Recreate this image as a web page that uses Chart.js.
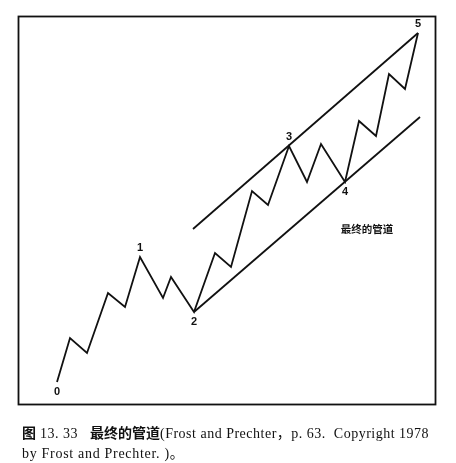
<!DOCTYPE html>
<html>
<head>
<meta charset="utf-8">
<script src="https://cdn.jsdelivr.net/npm/chart.js@4"></script>
<style>
  html,body{margin:0;padding:0;background:#fff;}
  #wrap{position:relative;width:456px;height:463px;overflow:hidden;}
  #c{position:absolute;left:0;top:0;}
  #cap{position:absolute;left:22px;top:422px;font-family:"Liberation Serif","Noto Sans CJK SC",serif;font-size:14px;line-height:20px;color:#111;white-space:nowrap;}
  #cap1{letter-spacing:0.5px;}
  #cap2{letter-spacing:0.7px;}
  .cjk{font-family:"Noto Sans CJK SC";font-weight:700;letter-spacing:0;}
  .fig{font-family:"Noto Sans CJK SC";font-weight:700;letter-spacing:4px;}
</style>
</head>
<body>
<div id="wrap">
<canvas id="c" width="456" height="463"></canvas>
<div id="cap">
<div id="cap1"><span class="fig">图</span>13. 33&nbsp;&nbsp;&nbsp;<span class="cjk">最终的管道</span>(Frost and Prechter，p. 63.&nbsp; Copyright 1978</div>
<div id="cap2">by Frost and Prechter. )。</div>
</div>
</div>
<script>
// Elliott wave path (time units, price units)
const waveX = [39, 52, 69, 90, 107, 122, 145, 153, 176, 197, 213, 234, 250, 271, 289, 303, 327, 341, 358, 371, 387, 400];
const waveY = [23, 67, 52, 112, 98, 148, 107, 128, 93, 152, 138, 214, 200, 259, 223, 261, 223, 284, 269, 331, 316, 372];
// channel lines
const upperX = [175, 400];
const upperY = [176, 372];
const lowerX = [176, 402];
const lowerY = [93, 288];
// wave labels: text and index into the wave path
const waveLabels = ['0', '1', '2', '3', '4', '5'];
const waveLabelIdx = [0, 5, 8, 13, 16, 21];
const waveLabelAbove = [false, true, false, true, false, true];
// annotation
const noteText = '最终的管道';
const noteX = 349;
const noteY = 176;

const toPts = (xs, ys) => xs.map((x, i) => ({x, y: ys[i]}));

const framePlugin = {
  id: 'frame',
  afterDatasetsDraw(chart) {
    const {ctx, chartArea: a, scales} = chart;
    ctx.save();
    ctx.strokeStyle = '#111';
    ctx.lineWidth = 1.8;
    ctx.strokeRect(a.left + 0.5, a.top + 0.5, a.right - a.left - 1, a.bottom - a.top - 1);
    ctx.fillStyle = '#111';
    ctx.textAlign = 'center';
    ctx.textBaseline = 'middle';
    ctx.font = 'bold 11px "Liberation Sans", sans-serif';
    waveLabels.forEach((t, i) => {
      const k = waveLabelIdx[i];
      const px = scales.x.getPixelForValue(waveX[k]);
      const py = scales.y.getPixelForValue(waveY[k]);
      ctx.fillText(t, px, py + (waveLabelAbove[i] ? -9 : 10));
    });
    ctx.font = 'bold 10.5px "Noto Sans CJK SC", sans-serif';
    ctx.fillText(noteText, scales.x.getPixelForValue(noteX), scales.y.getPixelForValue(noteY));
    ctx.restore();
  }
};

new Chart(document.getElementById('c'), {
  type: 'scatter',
  data: {
    datasets: [
      {data: toPts(waveX, waveY), showLine: true, borderColor: '#111', borderWidth: 1.8, pointRadius: 0, tension: 0, fill: false},
      {data: toPts(upperX, upperY), showLine: true, borderColor: '#111', borderWidth: 1.8, pointRadius: 0, tension: 0, fill: false},
      {data: toPts(lowerX, lowerY), showLine: true, borderColor: '#111', borderWidth: 1.8, pointRadius: 0, tension: 0, fill: false}
    ]
  },
  options: {
    responsive: false,
    animation: false,
    devicePixelRatio: 1,
    layout: {padding: {left: 18, right: 20, top: 16, bottom: 58}},
    plugins: {legend: {display: false}, tooltip: {enabled: false}},
    scales: {
      x: {type: 'linear', min: 0, max: 418, display: false},
      y: {type: 'linear', min: 0, max: 389, display: false}
    }
  },
  plugins: [framePlugin]
});
</script>
</body>
</html>
